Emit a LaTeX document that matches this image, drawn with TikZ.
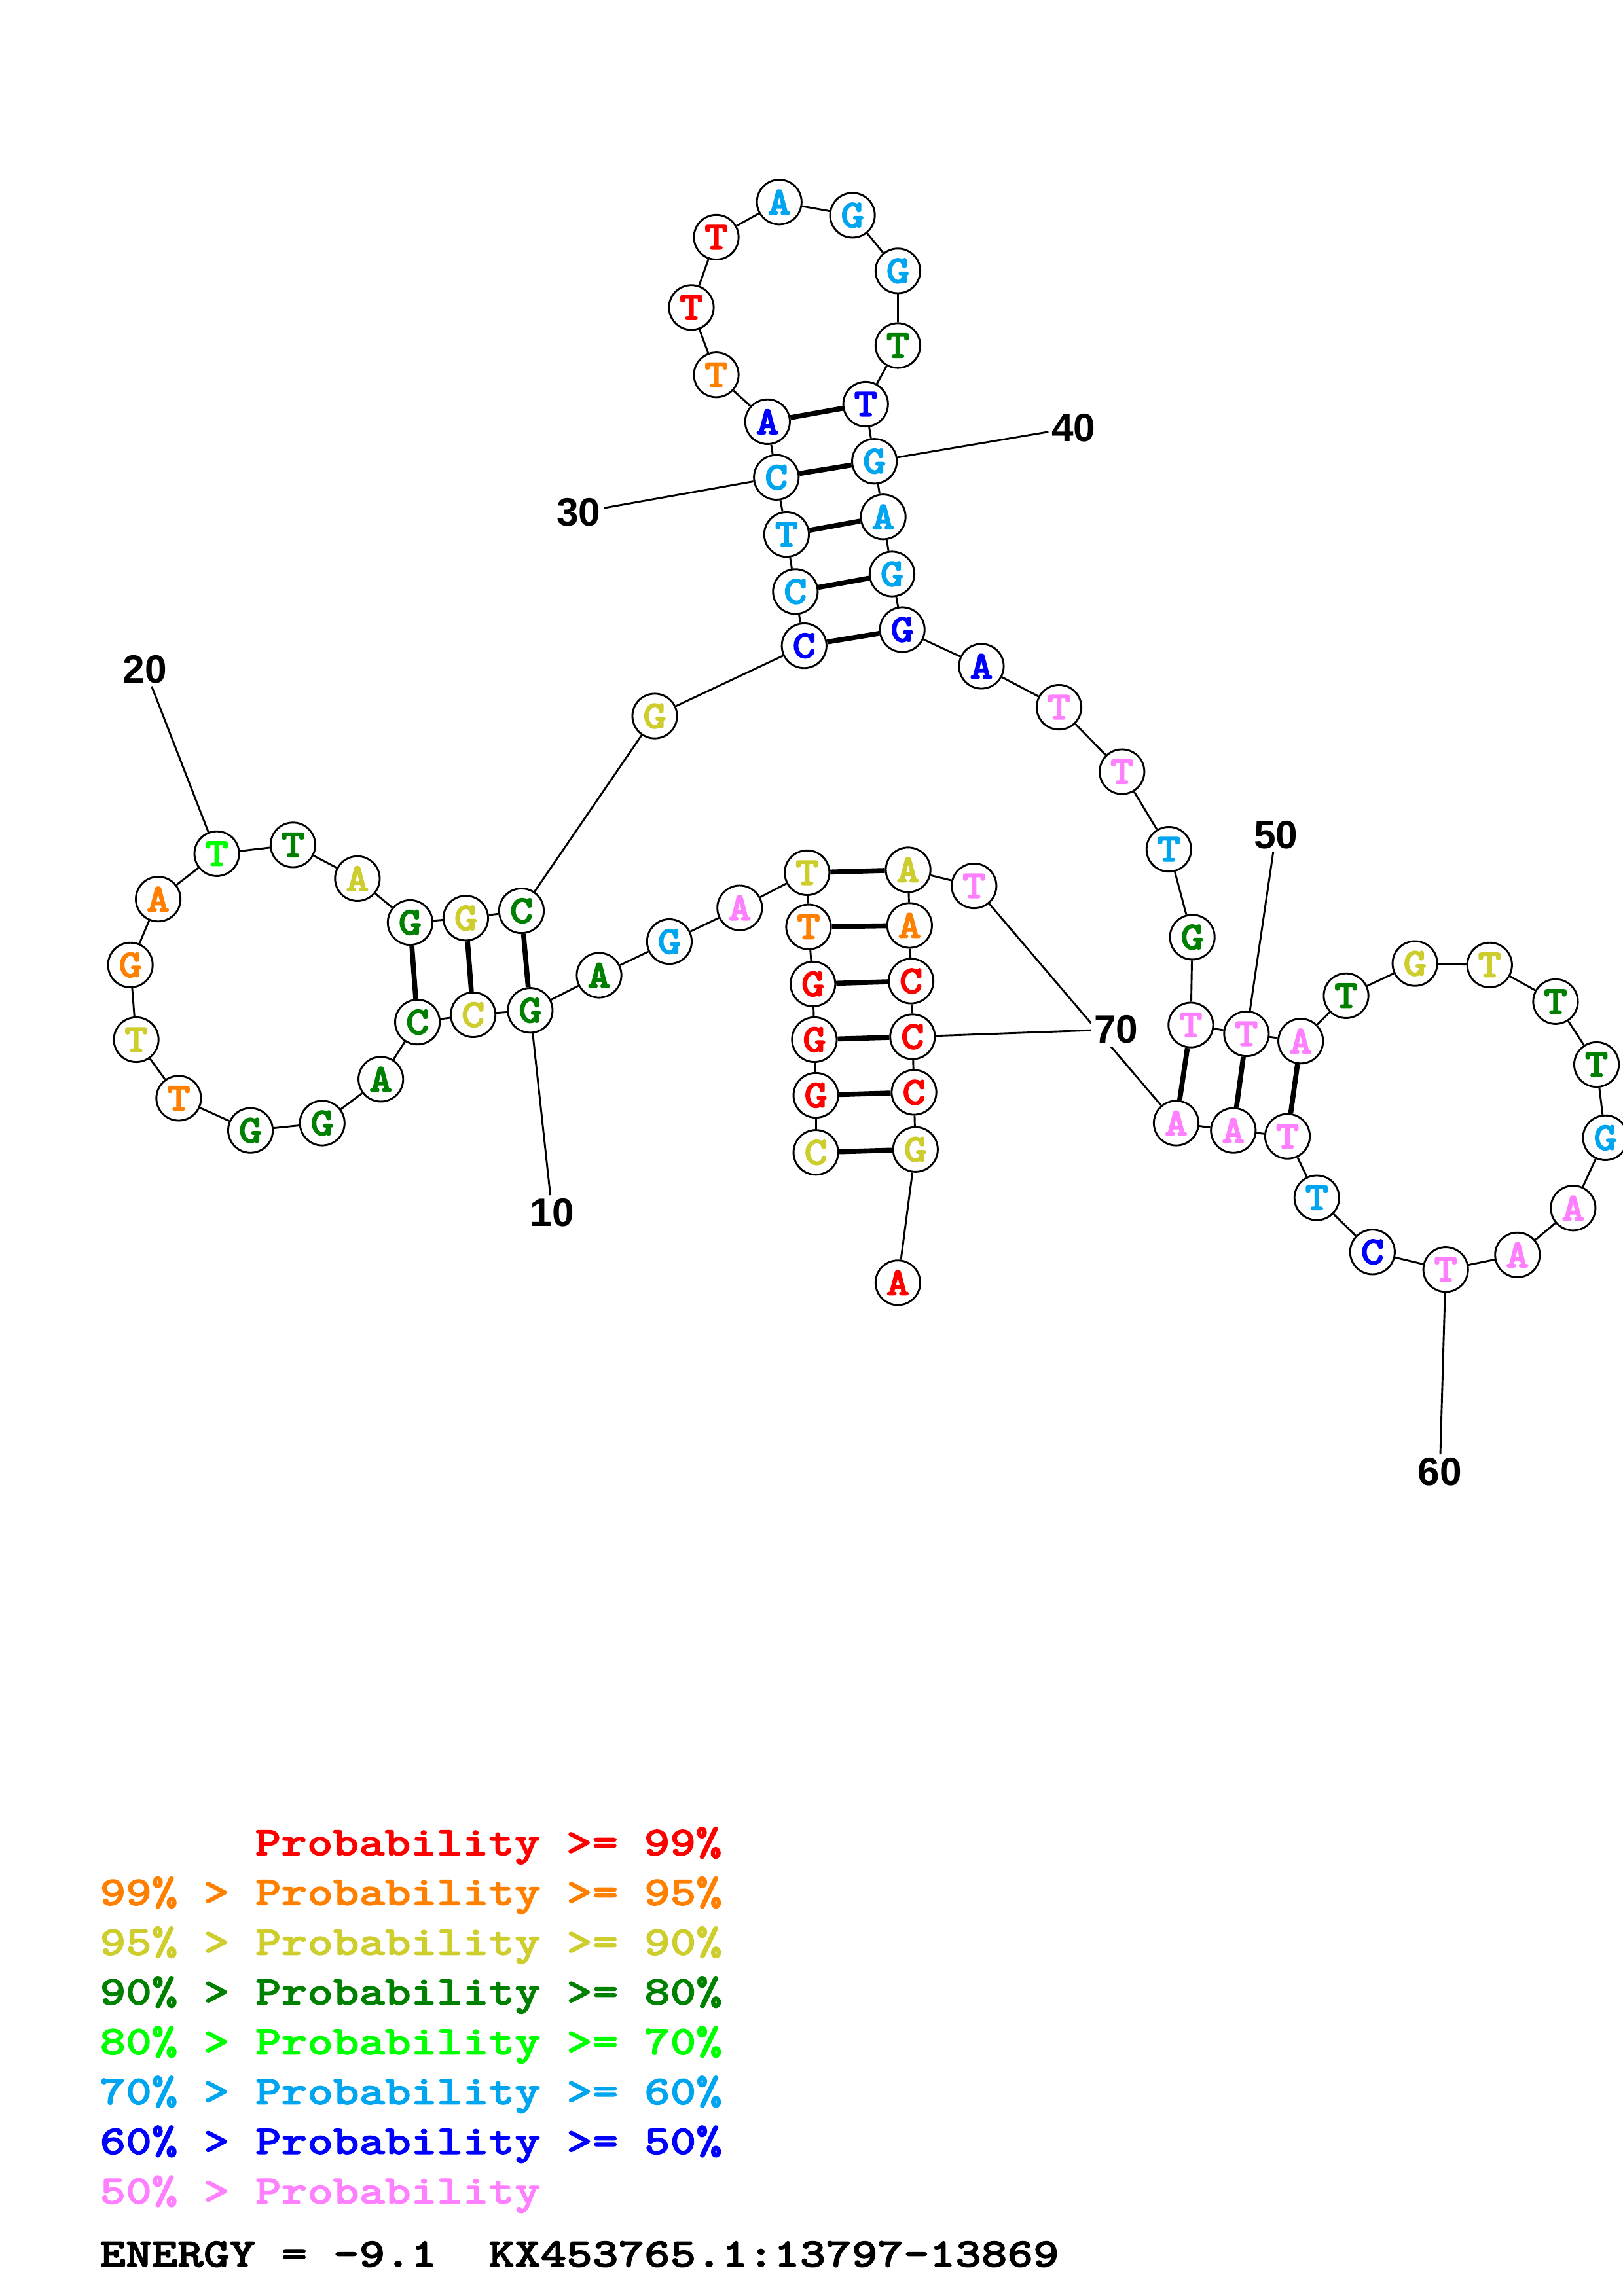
\documentclass[tikz,border=0pt]{standalone}
\usepackage{fontspec}
\usepackage{graphicx}
\newfontfamily\labfont{Liberation Sans}
\newfontfamily\nucfont{lmmonolt10-bold.otf}[FakeBold=2.2]
\newfontfamily\legfont{lmmonolt10-bold.otf}[FakeBold=1.6]
\definecolor{cR}{RGB}{255,0,0}
\definecolor{cO}{RGB}{255,128,0}
\definecolor{cY}{RGB}{205,205,45}
\definecolor{cDG}{RGB}{0,128,0}
\definecolor{cBG}{RGB}{0,255,0}
\definecolor{cLB}{RGB}{0,165,240}
\definecolor{cB}{RGB}{0,0,255}
\definecolor{cP}{RGB}{255,128,255}
\begin{document}
\begin{tikzpicture}[x=1pt,y=-1pt,
  nuc/.style={circle,draw=black,fill=white,line width=1.3pt,minimum size=30.5pt,inner sep=0pt,
    font=\nucfont\fontsize{27}{27}\selectfont},
  bb/.style={line width=1.3pt},
  bp/.style={line width=3.4pt},
  lab/.style={font=\labfont\bfseries\fontsize{27}{27}\selectfont,inner sep=2pt,fill=white},
  lline/.style={line width=1.3pt},
  leg/.style={anchor=base west,inner sep=0pt,font=\legfont\fontsize{28}{28}\selectfont}]
\useasboundingbox (0,0) rectangle (1108,1568);
\fill[white] (0,0) rectangle (1108,1568);
% nucleotides
\foreach \i/\nb/\x/\y/\cl in {
 1/C/557/787/cY, 2/G/557/748/cR, 3/G/556/710/cR, 4/G/555/672/cR, 5/T/552/633/cO,
 6/T/551/596/cY, 7/A/505/620/cP, 8/G/457/643/cLB, 9/A/409/666/cDG, 10/G/362/690/cDG,
 11/C/323/693/cY, 12/C/285/698/cDG, 13/A/260/737/cDG, 14/G/220/767/cDG, 15/G/171/772/cDG,
 16/T/122/750/cO, 17/T/93/710/cY, 18/G/89/659/cO, 19/A/108/614/cO, 20/T/148/583/cBG,
 21/T/200/577/cDG, 22/A/244/600/cY, 23/G/280/630/cDG, 24/G/318/627/cY, 25/C/356/622/cDG,
 26/G/447/489/cY, 27/C/549/441/cB, 28/C/543/404/cLB, 29/T/537/365/cLB, 30/C/530/326/cLB,
 31/A/524/288/cB, 32/T/489/256/cO, 33/T/472/210/cR, 34/T/489/162/cR, 35/A/532/138/cLB,
 36/G/582/147/cLB, 37/G/613/185/cLB, 38/T/613/236/cDG, 39/T/591/276/cB, 40/G/597/315/cLB,
 41/A/603/353/cLB, 42/G/609/392/cLB, 43/G/616/430/cB, 44/A/670/455/cB, 45/T/723/483/cP,
 46/T/766/527/cP, 47/T/798/580/cLB, 48/G/814/640/cDG, 49/T/813/700/cP, 50/T/851/706/cP,
 51/A/888/711/cP, 52/T/919/680/cDG, 53/G/966/658/cY, 54/T/1017/659/cY, 55/T/1062/684/cDG,
 56/T/1090/727/cDG, 57/G/1096/777/cLB, 58/A/1074/825/cP, 59/A/1036/857/cP, 60/T/987/867/cP,
 61/C/937/855/cB, 62/T/899/818/cLB, 63/T/879/776/cP, 64/A/842/772/cP, 65/A/803/767/cP,
 66/T/665/605/cP, 67/A/620/594/cY, 68/A/621/632/cO, 69/C/622/670/cR, 70/C/623/708/cR,
 71/C/624/746/cR, 72/G/625/785/cY, 73/A/613/876/cR}
 \node[nuc,text=\cl] (n\i) at (\x,\y) {\scalebox{1.12}[1]{\nb}};
% backbone
\foreach \i in {1,...,72}{
  \pgfmathtruncatemacro{\j}{\i+1}
  \draw[bb] (n\i) -- (n\j);
}
% base pairs
\foreach \a/\b in {1/72,2/71,3/70,4/69,5/68,6/67,10/25,11/24,12/23,27/43,28/42,29/41,30/40,31/39,49/65,50/64,51/63}
  \draw[bp] (n\a) -- (n\b);
% number labels
\node[lab] (l10) at (377,828) {10};
\node[lab] (l20) at (99,457) {20};
\node[lab] (l30) at (395,350) {30};
\node[lab] (l40) at (733,292) {40};
\node[lab] (l50) at (871,570) {50};
\node[lab] (l60) at (983,1005) {60};
\node[lab] (l70) at (762,703) {70};
\foreach \k in {10,20,30,40,50,60,70}
  \draw[lline] (l\k) -- (n\k);
% legend
\node[leg,text=cR] (g1) at (174,1267) {\scalebox{1.204}[1]{Probability >= 99\%}};
\node[leg,text=cO] (g2) at (68,1301) {\scalebox{1.204}[1]{99\% > Probability >= 95\%}};
\node[leg,text=cY] (g3) at (68,1335) {\scalebox{1.204}[1]{95\% > Probability >= 90\%}};
\node[leg,text=cDG] (g4) at (68,1369) {\scalebox{1.204}[1]{90\% > Probability >= 80\%}};
\node[leg,text=cBG] (g5) at (68,1403) {\scalebox{1.204}[1]{80\% > Probability >= 70\%}};
\node[leg,text=cLB] (g6) at (68,1437) {\scalebox{1.204}[1]{70\% > Probability >= 60\%}};
\node[leg,text=cB] (g7) at (68,1471) {\scalebox{1.204}[1]{60\% > Probability >= 50\%}};
\node[leg,text=cP] (g8) at (68,1505) {\scalebox{1.204}[1]{50\% > Probability}};
\node[leg,text=black] (en) at (68,1548) {\scalebox{1.204}[1]{ENERGY = -9.1\ \ KX453765.1:13797-13869}};
\end{tikzpicture}
\end{document}
